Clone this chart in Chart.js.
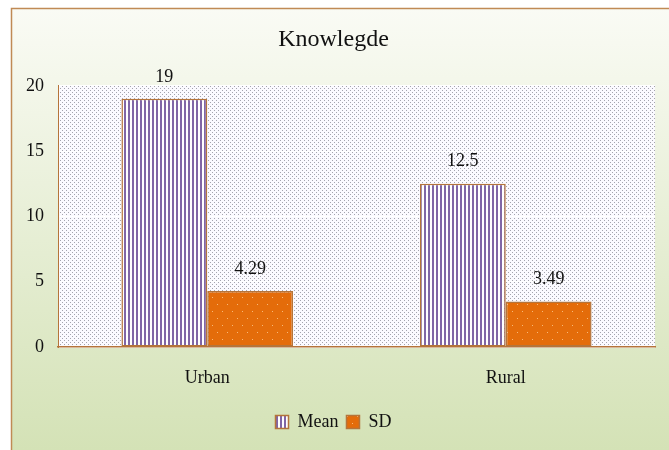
<!DOCTYPE html>
<html>
<head>
<meta charset="utf-8">
<script src="https://cdn.jsdelivr.net/npm/chart.js@4"></script>
<style>
  html, body { margin: 0; padding: 0; background: #fff; }
  #wrap { width: 669px; height: 450px; }
</style>
</head>
<body>
<div id="wrap"><canvas id="knowChart" width="669" height="450"></canvas></div>
<script>
const categories = ['Urban', 'Rural'];
const meanValues = [19, 12.5];
const sdValues = [4.29, 3.49];
const yTicks = [0, 5, 10, 15, 20];

const serif = "'Liberation Serif', 'Times New Roman', serif";
const edge = '#b5743a';

// little helper to build canvas patterns
function makePattern(w, h, draw) {
  const c = document.createElement('canvas');
  c.width = w; c.height = h;
  const g = c.getContext('2d');
  draw(g);
  return document.getElementById('knowChart').getContext('2d').createPattern(c, 'repeat');
}

const stripes = makePattern(4, 4, g => {
  g.fillStyle = '#ffffff'; g.fillRect(0, 0, 4, 4);
  g.fillStyle = '#8066a6'; g.fillRect(0, 0, 2, 4);
});
const orangeDots = makePattern(10, 14, g => {
  g.fillStyle = '#e46c0a'; g.fillRect(0, 0, 10, 14);
  g.fillStyle = '#f7b978';
  g.fillRect(2, 3, 1, 1);
  g.fillRect(7, 10, 1, 1);
});
const plotDots = makePattern(4, 4, g => {
  g.fillStyle = '#fbfaff'; g.fillRect(0, 0, 4, 4);
  g.fillStyle = '#a4a4ae';
  g.fillRect(0, 0, 1, 1);
  g.fillRect(2, 2, 1, 1);
});

const backdrop = {
  id: 'backdrop',
  beforeDraw(chart) {
    const ctx = chart.ctx;
    const {width, height, chartArea} = chart;
    ctx.save();
    ctx.fillStyle = '#ffffff';
    ctx.fillRect(0, 0, width, height);
    const grad = ctx.createLinearGradient(0, 8, 0, height);
    grad.addColorStop(0, '#fafbf5');
    grad.addColorStop(1, '#d4e2b6');
    ctx.fillStyle = grad;
    ctx.fillRect(11, 8, width, height);
    ctx.strokeStyle = '#c08a55';
    ctx.lineWidth = 1.5;
    ctx.strokeRect(11.5, 8.5, width + 20, height + 20);
    ctx.fillStyle = plotDots;
    ctx.fillRect(chartArea.left, chartArea.top, chartArea.right - chartArea.left, chartArea.bottom - chartArea.top);
    ctx.restore();
  }
};

const valueLabels = {
  id: 'valueLabels',
  afterDatasetsDraw(chart) {
    const ctx = chart.ctx;
    ctx.save();
    ctx.font = '18px ' + serif;
    ctx.fillStyle = '#111';
    ctx.textAlign = 'center';
    ctx.textBaseline = 'middle';
    chart.data.datasets.forEach((ds, i) => {
      chart.getDatasetMeta(i).data.forEach((bar, j) => {
        ctx.fillText(String(ds.data[j]), bar.x, bar.y - 22);
      });
    });
    ctx.restore();
  }
};

new Chart(document.getElementById('knowChart'), {
  type: 'bar',
  data: {
    labels: categories,
    datasets: [
      {
        label: 'Mean',
        data: meanValues,
        backgroundColor: stripes,
        borderColor: edge,
        borderWidth: 1.5,
        borderSkipped: false
      },
      {
        label: 'SD',
        data: sdValues,
        backgroundColor: orangeDots,
        borderColor: edge,
        borderWidth: 1.5,
        borderSkipped: false
      }
    ]
  },
  options: {
    responsive: false,
    animation: false,
    devicePixelRatio: 1,
    layout: { padding: { left: 12, right: 14, top: 8, bottom: 9 } },
    datasets: { bar: { categoryPercentage: 0.575, barPercentage: 1 } },
    scales: {
      x: {
        grid: { display: false, drawTicks: false },
        border: { color: edge, width: 1.5 },
        ticks: { padding: 20, color: '#111', font: { family: serif, size: 18 } },
        afterFit(scale) { scale.height = 58; }
      },
      y: {
        min: 0,
        max: 20,
        afterBuildTicks(scale) { scale.ticks = yTicks.map(v => ({ value: v })); },
        grid: { color: '#ffffff', lineWidth: 1, drawTicks: false },
        border: { color: edge, width: 1 },
        ticks: { padding: 14, color: '#111', font: { family: serif, size: 18 } },
        afterFit(scale) { scale.width = 46; }
      }
    },
    plugins: {
      title: {
        display: true,
        text: 'Knowlegde',
        color: '#111',
        font: { family: serif, size: 24, weight: 'normal' },
        padding: { top: 17, bottom: 32 }
      },
      legend: {
        position: 'bottom',
        labels: {
          boxWidth: 13,
          boxHeight: 13,
          padding: 8,
          color: '#111',
          font: { family: serif, size: 18 }
        }
      },
      tooltip: { enabled: false }
    }
  },
  plugins: [backdrop, valueLabels]
});
</script>
</body>
</html>
